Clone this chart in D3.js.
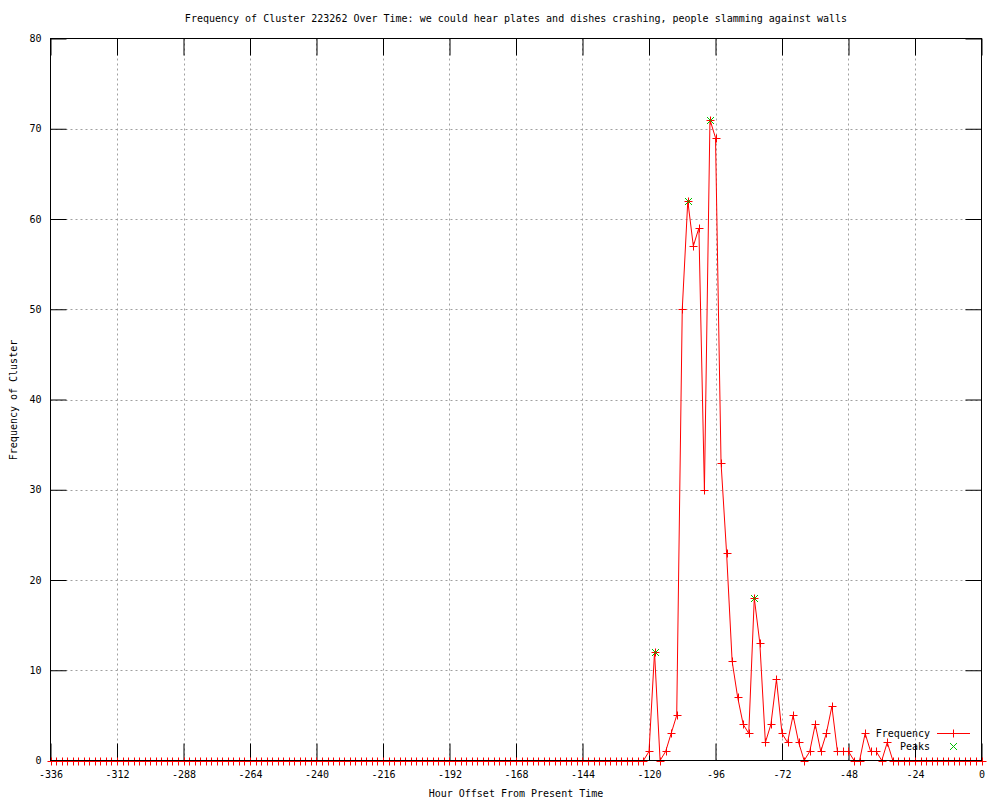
<!DOCTYPE html>
<html>
<head>
<meta charset="utf-8">
<script src="https://cdn.jsdelivr.net/npm/d3@7"></script>
<style>
  body { margin: 0; background: #fff; }
  text { font-family: "DejaVu Sans Mono", monospace; font-size: 10px; fill: #000; }
</style>
</head>
<body>
<div id="chart"></div>
<script>
// hours are every 2 hours from -336 up to 0
var hours = d3.range(-336, 1, 2);
var frequency = [
  0, 0, 0, 0, 0, 0, 0, 0, 0, 0, 0, 0, 0, 0, 0, 0, 0, 0,
  0, 0, 0, 0, 0, 0, 0, 0, 0, 0, 0, 0, 0, 0, 0, 0, 0, 0,
  0, 0, 0, 0, 0, 0, 0, 0, 0, 0, 0, 0, 0, 0, 0, 0, 0, 0,
  0, 0, 0, 0, 0, 0, 0, 0, 0, 0, 0, 0, 0, 0, 0, 0, 0, 0,
  0, 0, 0, 0, 0, 0, 0, 0, 0, 0, 0, 0, 0, 0, 0, 0, 0, 0,
  0, 0, 0, 0, 0, 0, 0, 0, 0, 0, 0, 0, 0, 0, 0, 0, 0, 0,
  // -120 .. -32
  1, 12, 0, 1, 3, 5, 50, 62, 57, 59, 30, 71, 69, 33, 23, 11, 7, 4, 3, 18,
  13, 2, 4, 9, 3, 2, 5, 2, 0, 1, 4, 1, 3, 6, 1, 1, 1, 0, 0, 3,
  1, 1, 0, 2, 0,
  // -30 .. 0
  0, 0, 0, 0, 0, 0, 0, 0, 0, 0, 0, 0, 0, 0, 0, 0
];
var peakHours = [-118, -106, -98, -82];
var peakValues = [12, 62, 71, 18];

var xTicks = d3.range(-336, 1, 24);
var yTicks = [0, 10, 20, 30, 40, 50, 60, 70, 80];

var titleText = "Frequency of Cluster 223262 Over Time: we could hear plates and dishes crashing, people slamming against walls";
var xLabel = "Hour Offset From Present Time";
var yLabel = "Frequency of Cluster";

var chartWidth = 1000, chartHeight = 800;
var plotLeft = 50.5, plotRight = 981.5, plotTop = 38.5, plotBottom = 760.5;
var redColor = "#ff0000", greenColor = "#00c000";

var svg = d3.select("#chart")
  .append("svg")
  .attr("width", chartWidth)
  .attr("height", chartHeight);

var x = d3.scaleLinear().domain([-336, 0]).range([plotLeft, plotRight]);
var y = d3.scaleLinear().domain([0, 80]).range([plotBottom, plotTop]);

// grid lines
var grid = svg.append("g")
  .attr("stroke", "#a0a0a0")
  .attr("stroke-width", 1)
  .attr("stroke-dasharray", "2,3");

grid.selectAll("line.gx")
  .data(xTicks.slice(1, -1))
  .enter()
  .append("line")
  .attr("x1", d => Math.round(x(d)) + 0.5)
  .attr("x2", d => Math.round(x(d)) + 0.5)
  .attr("y1", plotTop)
  .attr("y2", plotBottom);

grid.selectAll("line.gy")
  .data(yTicks.slice(1, -1))
  .enter()
  .append("line")
  .attr("y1", d => Math.round(y(d)) + 0.5)
  .attr("y2", d => Math.round(y(d)) + 0.5)
  .attr("x1", plotLeft)
  .attr("x2", plotRight);

// axes, ticks pointing inward
var fmt = d => String(d);

function styleAxis(g) {
  g.select(".domain").remove();
  g.selectAll(".tick line").attr("stroke", "#000");
  g.selectAll(".tick text").attr("fill", "#000").style("font-size", "10px")
    .style("font-family", "DejaVu Sans Mono, monospace");
}

svg.append("g")
  .attr("transform", "translate(0," + plotBottom + ")")
  .call(d3.axisBottom(x).tickValues(xTicks).tickSizeInner(-17).tickSizeOuter(0).tickPadding(10).tickFormat(fmt))
  .call(styleAxis);

svg.append("g")
  .attr("transform", "translate(0," + plotTop + ")")
  .call(d3.axisTop(x).tickValues(xTicks).tickSizeInner(-17).tickSizeOuter(0).tickFormat(""))
  .call(styleAxis);

svg.append("g")
  .attr("transform", "translate(" + plotLeft + ",0)")
  .call(d3.axisLeft(y).tickValues(yTicks).tickSizeInner(-16).tickSizeOuter(0).tickPadding(9).tickFormat(fmt))
  .call(styleAxis);

svg.append("g")
  .attr("transform", "translate(" + plotRight + ",0)")
  .call(d3.axisRight(y).tickValues(yTicks).tickSizeInner(-16).tickSizeOuter(0).tickFormat(""))
  .call(styleAxis);

// frequency line
var line = d3.line()
  .x((d, i) => x(hours[i]))
  .y(d => y(d));

svg.append("path")
  .datum(frequency)
  .attr("fill", "none")
  .attr("stroke", redColor)
  .attr("stroke-width", 1)
  .attr("d", line);

// plus markers
function plusPath(cx, cy, r) {
  return "M" + (cx - r) + "," + cy + "H" + (cx + r) + "M" + cx + "," + (cy - r) + "V" + (cy + r);
}
function crossPath(cx, cy, r) {
  return "M" + (cx - r) + "," + (cy - r) + "L" + (cx + r) + "," + (cy + r) +
    "M" + (cx - r) + "," + (cy + r) + "L" + (cx + r) + "," + (cy - r);
}

svg.append("g")
  .selectAll("path")
  .data(frequency)
  .enter()
  .append("path")
  .attr("fill", "none")
  .attr("stroke", redColor)
  .attr("stroke-width", 1)
  .attr("d", (d, i) => plusPath(Math.round(x(hours[i])) + 0.5, Math.round(y(d)) + 0.5, 4));

// peaks
svg.append("g")
  .selectAll("path")
  .data(peakValues)
  .enter()
  .append("path")
  .attr("fill", "none")
  .attr("stroke", greenColor)
  .attr("stroke-width", 1)
  .attr("d", (d, i) => crossPath(Math.round(x(peakHours[i])) + 0.5, Math.round(y(d)) + 0.5, 3.5));

// border on top
svg.append("rect")
  .attr("x", plotLeft)
  .attr("y", plotTop)
  .attr("width", plotRight - plotLeft)
  .attr("height", plotBottom - plotTop)
  .attr("fill", "none")
  .attr("stroke", "#000")
  .attr("stroke-width", 1);

// legend
var lg = svg.append("g");
lg.append("text").attr("x", 930).attr("y", 733).attr("dy", "0.35em")
  .attr("text-anchor", "end").text("Frequency");
lg.append("path")
  .attr("d", "M937,733.5H970" + plusPath(953.5, 733.5, 4))
  .style("stroke", redColor).style("fill", "none").style("stroke-width", "1px");
lg.append("text").attr("x", 930).attr("y", 746).attr("dy", "0.35em")
  .attr("text-anchor", "end").text("Peaks");
lg.append("path")
  .attr("d", crossPath(953.5, 746.5, 3.5))
  .style("stroke", greenColor).style("fill", "none").style("stroke-width", "1px");

// titles
svg.append("text").attr("x", 516).attr("y", 18).attr("dy", "0.35em")
  .attr("text-anchor", "middle").text(titleText);
svg.append("text").attr("x", 516).attr("y", 793).attr("dy", "0.35em")
  .attr("text-anchor", "middle").text(xLabel);
svg.append("text")
  .attr("transform", "translate(13,400) rotate(-90)")
  .attr("dy", "0.35em")
  .attr("text-anchor", "middle").text(yLabel);
</script>
</body>
</html>
